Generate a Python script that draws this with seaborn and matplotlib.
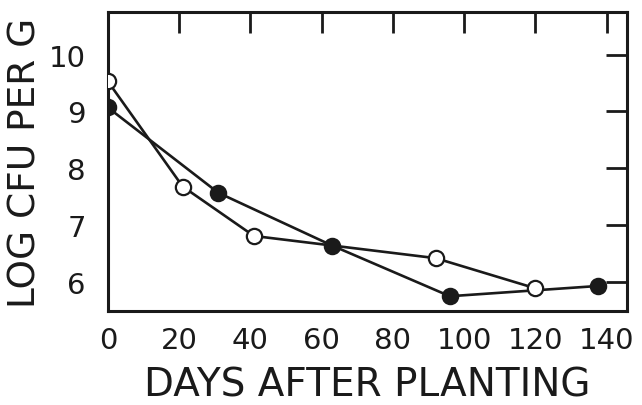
import matplotlib
matplotlib.use("Agg")
import matplotlib.pyplot as plt
import seaborn as sns
import pandas as pd

# Data
open_days = [0, 21, 41, 92, 120]
open_log = [9.53, 7.68, 6.81, 6.42, 5.89]
filled_days = [0, 31, 63, 96, 137.5]
filled_log = [9.07, 7.57, 6.64, 5.75, 5.93]

x_ticks = [0, 20, 40, 60, 80, 100, 120, 140]
y_ticks = [6, 7, 8, 9, 10]

sns.set_theme(style="white")
plt.rcParams['font.family'] = ['DejaVu Sans']

fig = plt.figure(figsize=(6.42, 4.06), dpi=100)
ax = fig.add_axes([0.168, 0.2315, 0.809, 0.7365])

df_open = pd.DataFrame({"day": open_days, "log": open_log})
df_filled = pd.DataFrame({"day": filled_days, "log": filled_log})

ink = "#1a1a1a"
sns.lineplot(data=df_filled, x="day", y="log", ax=ax, color=ink, lw=1.9,
             marker="o", markersize=11, markerfacecolor=ink,
             markeredgecolor=ink, markeredgewidth=1.6, sort=False, zorder=3)
sns.lineplot(data=df_open, x="day", y="log", ax=ax, color=ink, lw=1.9,
             marker="o", markersize=11, markerfacecolor="white",
             markeredgecolor=ink, markeredgewidth=1.6, sort=False, zorder=4)

ax.set_xlim(0, 145.8)
ax.set_ylim(5.49, 10.75)
ax.set_xticks(x_ticks)
ax.set_yticks(y_ticks)
ax.tick_params(direction="in", length=15, width=2, color=ink,
               top=True, right=True, labelsize=21, labelcolor=ink)
ax.tick_params(axis="x", pad=11)
ax.tick_params(axis="y", pad=16)
for s in ax.spines.values():
    s.set_visible(True)
    s.set_linewidth(2.2)
    s.set_color(ink)

ax.set_xlabel("DAYS AFTER PLANTING", fontsize=28, color=ink, labelpad=8)
ax.set_ylabel("LOG CFU PER G", fontsize=27, color=ink, labelpad=4)

fig.savefig("out.png", dpi=100, facecolor="white")
